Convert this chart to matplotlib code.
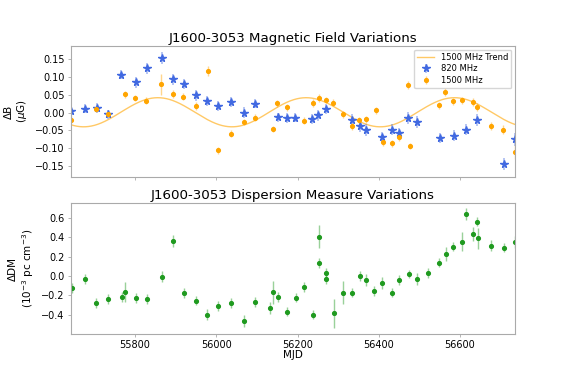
import matplotlib.pyplot as plt
import matplotlib.colors as mcolors
import numpy as np

# --- Magnetic field data (820 MHz) ---
mjd_820 = [55642, 55677, 55706, 55733, 55766, 55802, 55830, 55866, 55894, 55921,
           55950, 55978, 56005, 56036, 56069, 56096, 56151, 56175, 56194, 56235,
           56250, 56270, 56334, 56354, 56369, 56408, 56432, 56451, 56472, 56494,
           56551, 56585, 56615, 56642, 56709, 56735]
db_820 = [0.005, 0.011, 0.013, -0.005, 0.107, 0.085, 0.125, 0.153, 0.094, 0.080,
          0.049, 0.034, 0.019, 0.030, 0.000, 0.025, -0.013, -0.016, -0.014, -0.017,
          -0.008, 0.009, -0.020, -0.038, -0.048, -0.070, -0.048, -0.057, -0.014, -0.026,
          -0.071, -0.065, -0.048, -0.020, -0.145, -0.075]
db_820_err = [0.013, 0.013, 0.013, 0.013, 0.013, 0.015, 0.015, 0.017, 0.016, 0.014,
              0.015, 0.014, 0.015, 0.013, 0.016, 0.013, 0.013, 0.014, 0.013, 0.014,
              0.015, 0.014, 0.015, 0.016, 0.017, 0.015, 0.016, 0.015, 0.017, 0.017,
              0.014, 0.015, 0.016, 0.017, 0.018, 0.018]

# --- Magnetic field data (1500 MHz) ---
mjd_1500 = [55642, 55703, 55733, 55775, 55801, 55827, 55865, 55894, 55919, 55950,
            55979, 56003, 56036, 56068, 56096, 56139, 56150, 56174, 56215, 56237,
            56252, 56270, 56288, 56311, 56333, 56352, 56369, 56393, 56410, 56433,
            56451, 56473, 56477, 56548, 56564, 56584, 56604, 56633, 56643, 56676,
            56705, 56735]
db_1500 = [-0.020, 0.009, -0.003, 0.052, 0.042, 0.033, 0.080, 0.052, 0.045, 0.019,
           0.117, -0.106, -0.060, -0.026, -0.014, -0.047, 0.026, 0.015, -0.023, 0.026,
           0.042, 0.035, 0.028, -0.005, -0.038, -0.022, -0.019, 0.007, -0.084, -0.087,
           -0.070, 0.077, -0.094, 0.021, 0.058, 0.032, 0.035, 0.030, 0.016, -0.038,
           -0.048, -0.111]
db_1500_err = [0.010, 0.008, 0.008, 0.010, 0.009, 0.010, 0.030, 0.011, 0.009, 0.011,
               0.015, 0.010, 0.010, 0.009, 0.009, 0.009, 0.010, 0.010, 0.010, 0.011,
               0.011, 0.009, 0.010, 0.010, 0.010, 0.009, 0.009, 0.010, 0.010, 0.010,
               0.010, 0.011, 0.009, 0.010, 0.011, 0.010, 0.010, 0.010, 0.011, 0.011,
               0.012, 0.020]

# --- Annual trend fitted to 1500 MHz (amplitude, period, peak MJD, offset) ---
trend_amp = 0.041
trend_period = 365.25
trend_peak = 55856
trend_offset = 0.001

# --- Dispersion measure data ---
mjd_dm = [55644, 55676, 55704, 55733, 55768, 55776, 55802, 55830, 55866, 55894,
          55920, 55951, 55978, 56005, 56036, 56069, 56096, 56131, 56140, 56153,
          56175, 56195, 56215, 56237, 56252, 56252, 56271, 56271, 56289, 56311,
          56334, 56354, 56369, 56389, 56409, 56432, 56451, 56474, 56493, 56522,
          56549, 56565, 56584, 56605, 56615, 56633, 56641, 56644, 56676, 56708,
          56735]
ddm = [-0.126, -0.033, -0.280, -0.239, -0.218, -0.164, -0.225, -0.239, -0.006, 0.361,
       -0.174, -0.253, -0.397, -0.311, -0.280, -0.465, -0.266, -0.328, -0.167, -0.218,
       -0.366, -0.222, -0.115, -0.397, 0.134, 0.405, 0.032, -0.026, -0.383, -0.171,
       -0.171, -0.002, -0.040, -0.157, -0.074, -0.171, -0.040, 0.018, -0.030, 0.032,
       0.138, 0.227, 0.302, 0.353, 0.635, 0.429, 0.559, 0.388, 0.312, 0.292,
       0.347]
ddm_err = [0.05, 0.05, 0.05, 0.05, 0.05, 0.10, 0.05, 0.05, 0.06, 0.06,
           0.05, 0.05, 0.06, 0.05, 0.05, 0.06, 0.05, 0.06, 0.12, 0.05,
           0.05, 0.05, 0.05, 0.05, 0.05, 0.12, 0.05, 0.06, 0.15, 0.12,
           0.05, 0.05, 0.06, 0.05, 0.06, 0.05, 0.05, 0.04, 0.06, 0.05,
           0.05, 0.07, 0.05, 0.10, 0.06, 0.07, 0.05, 0.11, 0.06, 0.05,
           0.06]

BLUE = '#4169e1'
ORANGE = '#ffa500'
GREEN = '#1f9a1f'
SPINE = '#aaaaaa'


def faded(c, a=0.45):
    r, g, b = mcolors.to_rgb(c)
    return (r, g, b, a)


plt.rcParams['font.family'] = 'DejaVu Sans'
plt.rcParams['xtick.labelsize'] = 7
plt.rcParams['ytick.labelsize'] = 7

fig = plt.figure(figsize=(5.72, 3.82), dpi=100)
ax1 = fig.add_axes([0.124, 0.537, 0.776, 0.342])
ax2 = fig.add_axes([0.124, 0.126, 0.776, 0.342], sharex=ax1)

# Top panel: magnetic field
t = np.linspace(55642, 56735, 600)
trend = trend_offset + trend_amp * np.cos(2 * np.pi * (t - trend_peak) / trend_period)
ax1.plot(t, trend, color=ORANGE, alpha=0.6, lw=1.0, label='1500 MHz Trend')
ax1.errorbar(mjd_820, db_820, yerr=db_820_err, fmt='*', color=BLUE, ms=5.5,
             ecolor=faded(BLUE), elinewidth=1.2, label='820 MHz')
ax1.errorbar(mjd_1500, db_1500, yerr=db_1500_err, fmt='o', color=ORANGE, ms=2.7,
             ecolor=faded(ORANGE), elinewidth=1.0, label='1500 MHz')
ax1.set_ylim(-0.181, 0.187)
ax1.set_yticks([-0.15, -0.10, -0.05, 0.00, 0.05, 0.10, 0.15])
ax1.set_ylabel('ΔB\n($\\mu$G)', fontsize=7.5)
ax1.set_title('J1600-3053 Magnetic Field Variations', fontsize=9.6, pad=3)
ax1.tick_params(labelbottom=False)
ax1.legend(loc='upper right', fontsize=6, handlelength=2.0, borderpad=0.4,
           labelspacing=0.3, borderaxespad=0.4)

# Bottom panel: dispersion measure
ax2.errorbar(mjd_dm, ddm, yerr=ddm_err, fmt='o', color=GREEN, ms=2.7,
             ecolor=faded(GREEN), elinewidth=1.0)
ax2.set_ylim(-0.595, 0.748)
ax2.set_yticks([-0.4, -0.2, 0.0, 0.2, 0.4, 0.6])
ax2.set_xlim(55642, 56735)
ax2.set_xticks([55800, 56000, 56200, 56400, 56600])
ax2.set_xlabel('MJD', fontsize=7.5, labelpad=0)
ax2.set_ylabel('ΔDM\n($10^{-3}$ pc cm$^{-3}$)', fontsize=7.5)
ax2.set_title('J1600-3053 Dispersion Measure Variations', fontsize=9.6, pad=3)

for ax in (ax1, ax2):
    for s in ax.spines.values():
        s.set_color(SPINE)
    ax.tick_params(length=2.5, width=0.6, color=SPINE, pad=2)

plt.savefig('out.png', dpi=100)
